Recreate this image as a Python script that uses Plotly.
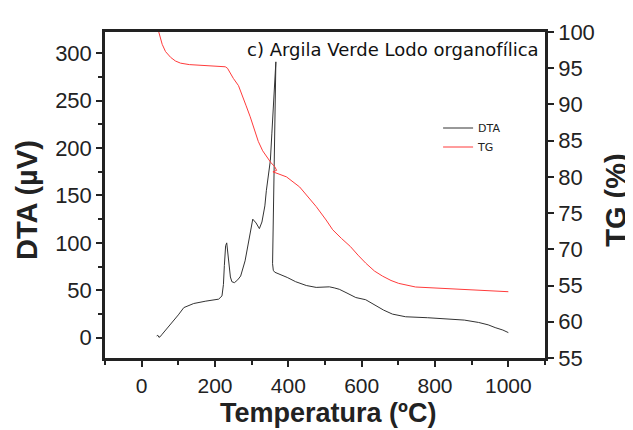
import plotly.graph_objects as go

# ---- data ----
dta_T = [41, 44, 47, 50, 56, 70, 88, 100, 115, 142, 175, 210, 219, 223, 225.5, 229, 232, 235, 239, 242, 246, 253,
         262, 270, 282, 296, 303, 312, 321, 328, 336, 340, 345, 351, 355, 360, 366, 357, 359, 363, 370,
         385, 397, 420, 449, 476, 500, 512, 525, 539, 560, 584, 611, 625, 639, 660, 684, 720, 780, 837,
         880, 919, 945, 964, 985, 1000]
dta_V = [1.8, 2.5, 0.4, 0.8, 3.6, 10, 17.7, 24, 31.7, 36, 38.5, 40.6, 44, 56, 76, 97, 100, 88, 72, 64, 59, 58,
         61, 65, 81, 110, 125, 121, 115, 122, 139, 155, 170, 187, 215, 250, 291, 78, 71, 69, 68,
         66, 63.5, 59, 55, 53, 53.3, 53.6, 52.5, 51, 47, 42.3, 40, 37, 33.5, 29, 24.8, 22, 21, 20,
         18.5, 16, 13.5, 10.6, 8, 5.3]

tg_T = [45, 50, 56, 65, 79, 92, 106, 130, 160, 200, 228, 234, 241, 250, 264, 273, 285, 296, 307, 318, 330,
        340, 352, 363, 368, 358, 370, 395, 431, 476, 503, 521, 545, 569, 590, 611, 635, 657, 680, 701,
        747, 800, 883, 950, 1000]
tg_V = [100.3, 99.5, 98.3, 97.3, 96.5, 96.0, 95.7, 95.5, 95.4, 95.3, 95.2, 95.0, 94.3, 93.6, 92.6, 91.5, 89.8,
        88.3, 86.5, 84.9, 83.6, 82.8, 82.0, 81.4, 80.9, 80.7, 80.5, 80.0, 78.6, 75.9, 74.05, 72.7, 71.5, 70.4,
        69.2, 68.1, 67.0, 66.3, 65.7, 65.3, 64.8, 64.65, 64.5, 64.3, 64.15]

x_ticks = [0, 200, 400, 600, 800, 1000]
y_ticks = [0, 50, 100, 150, 200, 250, 300]
y2_tickvals = [55, 60, 65, 70, 75, 80, 85, 90, 95, 100]
y2_ticktext = ["55", "60", "55", "70", "75", "80", "85", "90", "95", "100"]

title_text = "c) Argila Verde Lodo organofílica"
x_title = "<b>Temperatura (ºC)</b>"
y_title = "<b>DTA (µV)</b>"
y2_title = "<b>TG (%)</b>"

AX = "#222222"
FONT = "Liberation Sans, Arial, sans-serif"

fig = go.Figure()
fig.add_trace(go.Scatter(x=dta_T, y=dta_V, mode="lines", name="DTA",
                         line=dict(color="#333333", width=1), yaxis="y"))
fig.add_trace(go.Scatter(x=tg_T, y=tg_V, mode="lines", name="TG",
                         line=dict(color="#ff3b3b", width=1), yaxis="y2"))

fig.update_layout(
    width=625, height=422,
    margin=dict(l=97, r=88, t=24, b=72, autoexpand=False),
    paper_bgcolor="white", plot_bgcolor="white",
    font=dict(family=FONT, color=AX),
    xaxis=dict(range=[-100, 1100], tickvals=x_ticks, ticks="outside", ticklen=6, tickwidth=1.5,
               tickcolor=AX, showline=True, linewidth=2.5, linecolor=AX, mirror=True, automargin=False,
               showgrid=False, zeroline=False, tickfont=dict(size=21, color=AX), ticklabelstandoff=1,
               minor=dict(dtick=100, tick0=-100, ticks="outside", ticklen=4, tickcolor=AX, tickwidth=1.5)),
    yaxis=dict(range=[-21.5, 322.5], tickvals=y_ticks, ticks="outside", ticklen=6, tickwidth=1.5,
               tickcolor=AX, showline=True, linewidth=2.5, linecolor=AX, mirror=True, automargin=False,
               showgrid=False, zeroline=False, tickfont=dict(size=22, color=AX),
               minor=dict(dtick=25, tick0=0, ticks="outside", ticklen=4, tickcolor=AX, tickwidth=1.5)),
    yaxis2=dict(range=[55, 100], overlaying="y", side="right", tickvals=y2_tickvals, ticktext=y2_ticktext,
                ticks="outside", ticklen=6, tickwidth=1.5, tickcolor=AX, showline=True, linewidth=2.5,
                linecolor=AX, showgrid=False, zeroline=False, tickfont=dict(size=22, color=AX),
                automargin=False),
    legend=dict(x=0.757, y=0.75, xanchor="left", yanchor="top", bgcolor="rgba(0,0,0,0)",
                font=dict(size=11, family="DejaVu Sans", color=AX), itemwidth=30, tracegroupgap=0),
    annotations=[
        dict(text=title_text, xref="paper", yref="paper", x=0.655, y=0.945,
             xanchor="center", yanchor="middle", showarrow=False,
             font=dict(size=18, family="DejaVu Sans", color="#111")),
        dict(text=x_title, xref="paper", yref="paper", x=0.507, y=-0.17,
             xanchor="center", yanchor="middle", showarrow=False,
             font=dict(size=27, color=AX)),
        dict(text=y_title, xref="paper", yref="paper", x=-0.177, y=0.485, textangle=-90,
             xanchor="center", yanchor="middle", showarrow=False,
             font=dict(size=29, color=AX)),
        dict(text=y2_title, xref="paper", yref="paper", x=1.161, y=0.485, textangle=-90,
             xanchor="center", yanchor="middle", showarrow=False,
             font=dict(size=29, color=AX)),
    ],
)

fig.write_html("out.html")
